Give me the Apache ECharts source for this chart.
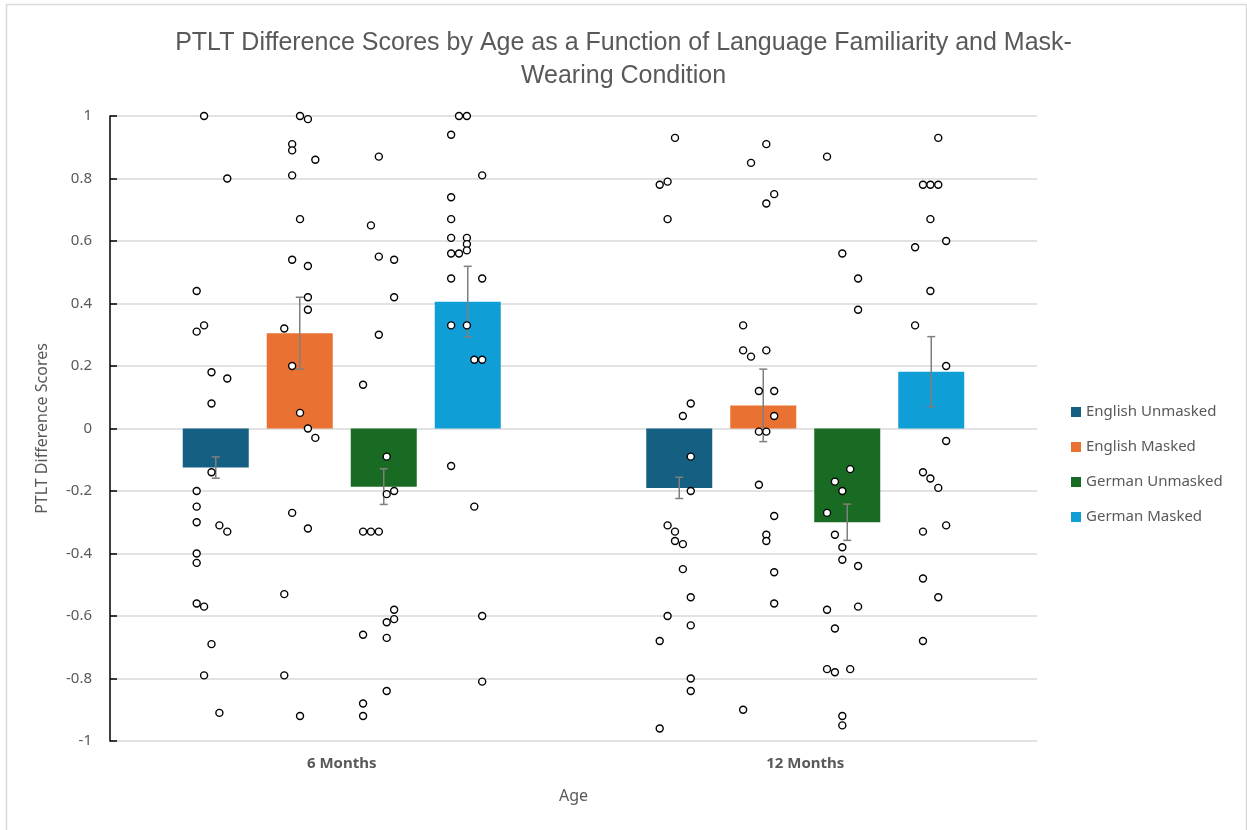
<!DOCTYPE html>
<html>
<head>
<meta charset="utf-8">
<script src="https://cdn.jsdelivr.net/npm/echarts@6/dist/echarts.min.js"></script>
<style>
  html, body { margin: 0; padding: 0; background: #fff; }
  #chart { width: 1247px; height: 830px; }
</style>
</head>
<body>
<div id="chart"></div>
<script>
// categories and series
const ages = ['6 Months', '12 Months']
const seriesNames = ['English Unmasked', 'English Masked', 'German Unmasked', 'German Masked']
const colors = ['#156082', '#E97132', '#196B24', '#0F9ED5']

// bar means per age (6 Months, 12 Months)
const meanEU = [-0.125, -0.19]
const meanEM = [0.305, 0.074]
const meanGU = [-0.186, -0.30]
const meanGM = [0.406, 0.182]

// standard errors per age
const seEU = [0.034, 0.034]
const seEM = [0.115, 0.116]
const seGU = [0.057, 0.058]
const seGM = [0.113, 0.112]

// individual scores, [position on age axis (0 = 6 Months, 1 = 12 Months), score]
const ptsEU = [
    [-0.297, 1.0], [-0.247, 0.80], [-0.313, 0.44], [-0.297, 0.33], [-0.313, 0.31], [-0.281, 0.18], [-0.247, 0.16],
    [-0.281, 0.08], [-0.281, -0.14], [-0.313, -0.20], [-0.313, -0.25], [-0.313, -0.30], [-0.264, -0.31], [-0.247, -0.33],
    [-0.313, -0.40], [-0.313, -0.43], [-0.313, -0.56], [-0.297, -0.57], [-0.281, -0.69], [-0.297, -0.79], [-0.264, -0.91],
    [0.719, 0.93], [0.686, 0.78], [0.703, 0.79], [0.703, 0.67], [0.753, 0.08], [0.736, 0.04], [0.753, -0.09],
    [0.753, -0.20], [0.703, -0.31], [0.719, -0.33], [0.719, -0.36], [0.736, -0.37], [0.736, -0.45], [0.753, -0.54],
    [0.703, -0.60], [0.753, -0.63], [0.686, -0.68], [0.753, -0.80], [0.753, -0.84], [0.686, -0.96]
]
const ptsEM = [
    [-0.090, 1.0], [-0.073, 0.99], [-0.107, 0.91], [-0.107, 0.89], [-0.057, 0.86], [-0.107, 0.81], [-0.090, 0.67],
    [-0.107, 0.54], [-0.073, 0.52], [-0.073, 0.42], [-0.073, 0.38], [-0.124, 0.32], [-0.107, 0.20], [-0.090, 0.05],
    [-0.073, 0.00], [-0.057, -0.03], [-0.107, -0.27], [-0.073, -0.32], [-0.124, -0.53], [-0.124, -0.79], [-0.090, -0.92],
    [0.916, 0.91], [0.883, 0.85], [0.933, 0.75], [0.916, 0.72], [0.866, 0.33], [0.866, 0.25], [0.883, 0.23],
    [0.916, 0.25], [0.900, 0.12], [0.933, 0.12], [0.933, 0.04], [0.900, -0.01], [0.916, -0.01], [0.900, -0.18],
    [0.933, -0.28], [0.916, -0.34], [0.916, -0.36], [0.933, -0.46], [0.933, -0.56], [0.866, -0.90]
]
const ptsGU = [
    [0.080, 0.87], [0.063, 0.65], [0.080, 0.55], [0.113, 0.54], [0.113, 0.42], [0.080, 0.30], [0.046, 0.14],
    [0.097, -0.09], [0.097, -0.21], [0.113, -0.20], [0.046, -0.33], [0.063, -0.33], [0.080, -0.33], [0.113, -0.58],
    [0.097, -0.62], [0.113, -0.61], [0.046, -0.66], [0.097, -0.67], [0.097, -0.84], [0.046, -0.88], [0.046, -0.92],
    [1.047, 0.87], [1.080, 0.56], [1.114, 0.48], [1.114, 0.38], [1.097, -0.13], [1.064, -0.17], [1.080, -0.20],
    [1.047, -0.27], [1.064, -0.34], [1.080, -0.38], [1.080, -0.42], [1.114, -0.44], [1.047, -0.58], [1.114, -0.57],
    [1.064, -0.64], [1.047, -0.77], [1.064, -0.78], [1.097, -0.77], [1.080, -0.92], [1.080, -0.95]
]
const ptsGM = [
    [0.253, 1.0], [0.270, 1.0], [0.236, 0.94], [0.303, 0.81], [0.236, 0.74], [0.236, 0.67], [0.236, 0.61],
    [0.270, 0.61], [0.270, 0.59], [0.270, 0.57], [0.236, 0.56], [0.253, 0.56], [0.236, 0.48], [0.303, 0.48],
    [0.236, 0.33], [0.270, 0.33], [0.286, 0.22], [0.303, 0.22], [0.236, -0.12], [0.286, -0.25], [0.303, -0.60],
    [0.303, -0.81],
    [1.287, 0.93], [1.254, 0.78], [1.270, 0.78], [1.287, 0.78], [1.270, 0.67], [1.304, 0.60], [1.237, 0.58],
    [1.270, 0.44], [1.237, 0.33], [1.304, 0.20], [1.304, -0.04], [1.254, -0.14], [1.270, -0.16], [1.287, -0.19],
    [1.254, -0.33], [1.304, -0.31], [1.254, -0.48], [1.287, -0.54], [1.254, -0.68]
]

const means = [meanEU, meanEM, meanGU, meanGM]
const ses = [seEU, seEM, seGU, seGM]
const points = [ptsEU, ptsEM, ptsGU, ptsGM]

const BAR_W = 66
const BAR_GAP = 18
const TXT = '#595959'
const FONT = '"Noto Sans", sans-serif'

const chart = echarts.init(document.getElementById('chart'))

const series = []
seriesNames.forEach((name, k) => {
    series.push({
        name: name,
        type: 'bar',
        xAxisIndex: 0,
        barWidth: BAR_W,
        barGap: (BAR_GAP / BAR_W * 100) + '%',
        itemStyle: { color: colors[k] },
        z: 2,
        data: means[k]
    })
})
// error bars
seriesNames.forEach((name, k) => {
    const offset = (k - 1.5) * (BAR_W + BAR_GAP)
    series.push({
        name: name + ' SE',
        type: 'custom',
        xAxisIndex: 0,
        z: 3,
        silent: true,
        data: means[k].map((m, i) => [i, m - ses[k][i], m + ses[k][i]]),
        renderItem: (params, api) => {
            const lo = api.coord([api.value(0), api.value(1)])
            const hi = api.coord([api.value(0), api.value(2)])
            const x = lo[0] + offset
            const st = { stroke: '#7f7f7f', lineWidth: 1.5 }
            return {
                type: 'group',
                children: [
                    { type: 'line', shape: { x1: x, y1: lo[1], x2: x, y2: hi[1] }, style: st },
                    { type: 'line', shape: { x1: x - 4, y1: lo[1], x2: x + 4, y2: lo[1] }, style: st },
                    { type: 'line', shape: { x1: x - 4, y1: hi[1], x2: x + 4, y2: hi[1] }, style: st }
                ]
            }
        }
    })
})
// individual points
seriesNames.forEach((name, k) => {
    series.push({
        name: name + ' pts',
        type: 'scatter',
        xAxisIndex: 1,
        symbol: 'circle',
        symbolSize: 7,
        z: 4,
        itemStyle: { color: '#fff', borderColor: '#000', borderWidth: 1.4, opacity: 1 },
        data: points[k]
    })
})

const option = {
    animation: false,
    backgroundColor: '#fff',
    textStyle: { fontFamily: FONT },
    title: {
        text: 'PTLT Difference Scores by Age as a Function of Language Familiarity and Mask-\nWearing Condition',
        left: 'center',
        top: 22,
        textStyle: {
            fontFamily: '"Liberation Sans", sans-serif',
            fontSize: 25,
            fontWeight: 'normal',
            color: TXT,
            lineHeight: 33,
            align: 'center'
        }
    },
    legend: {
        data: seriesNames,
        orient: 'vertical',
        left: 1066,
        top: 397,
        itemWidth: 10,
        itemHeight: 10,
        itemGap: 15,
        icon: 'rect',
        textStyle: { color: TXT, fontSize: 15, lineHeight: 20, fontFamily: FONT }
    },
    grid: { left: 110, right: 210, top: 116, bottom: 89, containLabel: false },
    xAxis: [
        {
            type: 'category',
            data: ages,
            name: 'Age',
            nameLocation: 'middle',
            nameGap: 47,
            nameTextStyle: { color: TXT, fontSize: 16 },
            axisLine: { show: false },
            axisTick: { show: false },
            axisLabel: { color: TXT, fontSize: 15, fontWeight: 'bold', margin: 15 }
        },
        { type: 'value', min: -0.5, max: 1.5, show: false }
    ],
    yAxis: {
        type: 'value',
        min: -1,
        max: 1,
        interval: 0.2,
        name: 'PTLT Difference Scores',
        nameLocation: 'middle',
        nameGap: 60,
        nameTextStyle: { color: TXT, fontSize: 16 },
        axisLine: { show: true, onZero: false, lineStyle: { color: '#000', width: 1.5 } },
        axisTick: { show: true, inside: true, length: 7, lineStyle: { color: '#000', width: 1.5 } },
        axisLabel: { color: TXT, fontSize: 15, margin: 18 },
        splitLine: { lineStyle: { color: '#d9d9d9', width: 1.5 } }
    },
    graphic: [
        {
            type: 'rect',
            shape: { x: 6.5, y: 4.5, width: 1240, height: 840 },
            style: { fill: null, stroke: '#d9d9d9', lineWidth: 1.5 },
            silent: true
        }
    ],
    series: series
}

chart.setOption(option)
</script>
</body>
</html>
